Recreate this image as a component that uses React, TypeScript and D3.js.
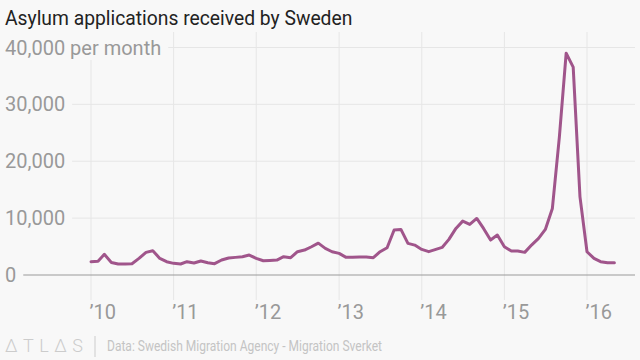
import React, { useMemo } from "react";
import * as d3 from "d3";

// ---- Data (monthly asylum applications, Jan 2010 – May 2016) ----
const firstMonth = new Date(2010, 0, 1);
const apps2010 = [2340, 2400, 3630, 2200, 1930, 1930, 1990, 2920, 3980, 4270, 2920, 2340];
const apps2011 = [2050, 1930, 2340, 2100, 2460, 2160, 1990, 2630, 2980, 3100, 3220, 3510];
const apps2012 = [2920, 2510, 2570, 2630, 3220, 3040, 4090, 4390, 4970, 5600, 4680, 4090];
const apps2013 = [3800, 3100, 3100, 3150, 3150, 3040, 4090, 4800, 7900, 8010, 5560, 5260];
const apps2014 = [4500, 4100, 4450, 4850, 6260, 8190, 9470, 8890, 9940, 8190, 6140, 7020];
const apps2015 = [4970, 4210, 4210, 3980, 5260, 6430, 8010, 11700, 24300, 39000, 36550, 13740];
const apps2016 = [4090, 2920, 2340, 2160, 2160];

const yTicks = [0, 10000, 20000, 30000, 40000];
const yTickLabels = ["0", "10,000", "20,000", "30,000", "40,000 per month"];
const xTickYears = [2010, 2011, 2012, 2013, 2014, 2015, 2016];
const xTickLabels = ["\u201910", "\u201911", "\u201912", "\u201913", "\u201914", "\u201915", "\u201916"];

const title = "Asylum applications received by Sweden";
const source = "Data: Swedish Migration Agency - Migration Sverket";
const logo = "\u0394TL\u0394S";

// ---- Style ----
const W = 640;
const H = 360;
const FONT = "Roboto, 'Liberation Sans', Arial, sans-serif";
const BG = "#f8f8f8";
const LINE = "#a0558b";
const GRID = "#e6e6e6";
const AXIS = "#9a9a9a";
const LABEL = "#999999";

function measure(txt: string, size: number): number {
  const ctx = document.createElement("canvas").getContext("2d");
  if (!ctx) return txt.length * size * 0.55;
  ctx.font = `${size}px ${FONT}`;
  return ctx.measureText(txt).width;
}

export default function App() {
  const values = [...apps2010, ...apps2011, ...apps2012, ...apps2013, ...apps2014, ...apps2015, ...apps2016];
  const data = values.map((v, i) => ({ date: d3.timeMonth.offset(firstMonth, i), value: v }));

  const x = d3.scaleTime().domain([new Date(2010, 0, 1), new Date(2016, 0, 1)]).range([91, 587]);
  const y = d3.scaleLinear().domain([0, 40000]).range([275, 47.5]);

  const line = d3
    .line<{ date: Date; value: number }>()
    .x((d) => x(d.date))
    .y((d) => y(d.value));

  const labelWidths = useMemo(() => yTickLabels.map((t) => measure(t, 20)), []);

  const gridRight = 635;
  const labelX = 5;

  return (
    <>
      <style>{`body{margin:0}`}</style>
      <svg width={W} height={H} style={{ display: "block", fontFamily: FONT }}>
        <rect x={0} y={0} width={W} height={H} fill={BG} />

        {/* Title */}
        <text x={5} y={25} fontSize={19.3} fill="#222" fontWeight={400}>
          {title}
        </text>

        {/* vertical gridlines */}
        {xTickYears.map((yr) => {
          const xx = x(new Date(yr, 0, 1));
          return <line key={yr} x1={xx} x2={xx} y1={32} y2={300} stroke={GRID} strokeWidth={1} />;
        })}

        {/* horizontal gridlines */}
        {yTicks.map((t) => (
          <line
            key={t}
            x1={8}
            x2={gridRight}
            y1={y(t)}
            y2={y(t)}
            stroke={t === 0 ? AXIS : GRID}
            strokeWidth={1}
          />
        ))}

        {/* y labels with background boxes */}
        {yTicks.map((t, i) => (
          <g key={t}>
            <rect
              x={0}
              y={y(t) - 18}
              width={labelX + labelWidths[i] + 7}
              height={30.5}
              fill={BG}
            />
            <text x={labelX} y={y(t) + 7} fontSize={20} fill={LABEL}>
              {yTickLabels[i]}
            </text>
          </g>
        ))}

        {/* x labels */}
        {xTickYears.map((yr, i) => (
          <text key={yr} x={x(new Date(yr, 0, 1)) - 1.5} y={319} fontSize={20} fill={LABEL}>
            {xTickLabels[i]}
          </text>
        ))}

        {/* data line */}
        <path
          d={line(data) || ""}
          fill="none"
          stroke={LINE}
          strokeWidth={3}
          strokeLinejoin="round"
          strokeLinecap="round"
        />

        {/* footer */}
        <text x={5} y={352} fontSize={18} fill="#cccccc" fontWeight={300} textLength={78} lengthAdjust="spacing">
          {logo}
        </text>
        <line x1={95} x2={95} y1={336} y2={357} stroke="#cccccc" strokeWidth={1} />
        <text x={107} y={351} fontSize={15.5} fill="#c4c4c4" textLength={275} lengthAdjust="spacingAndGlyphs">
          {source}
        </text>
      </svg>
    </>
  );
}
